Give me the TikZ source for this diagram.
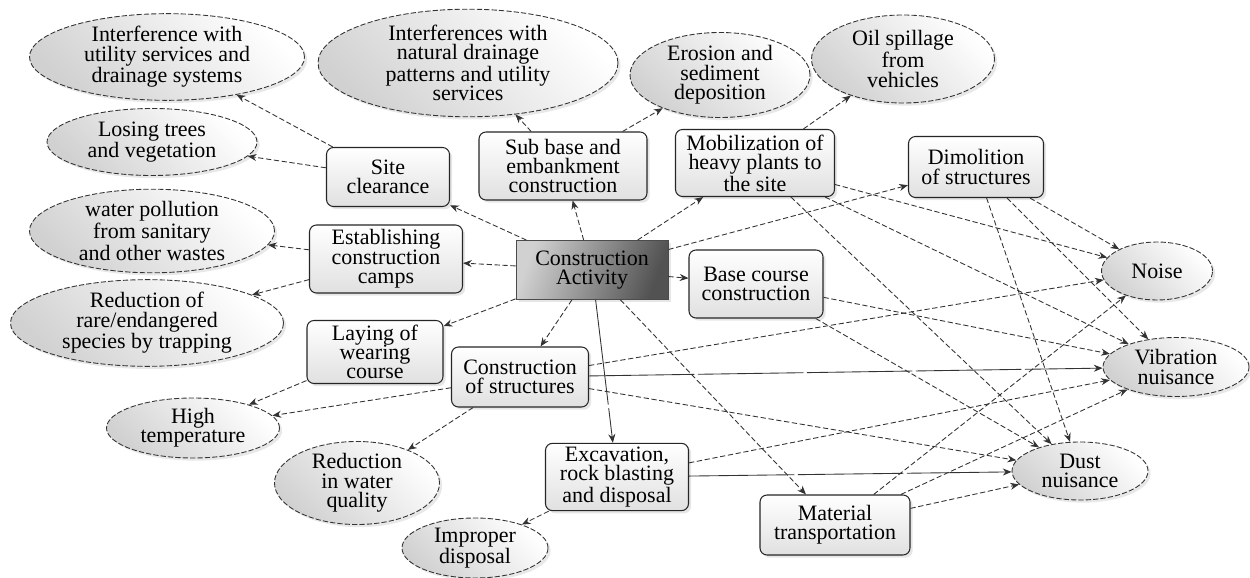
\documentclass[tikz,border=0pt]{standalone}
\usepackage{fontspec}
\setmainfont{Liberation Serif}
\newfontfamily\labelfont{Liberation Serif}
\usetikzlibrary{shapes.geometric, arrows.meta, shadows}

\begin{document}
\begin{tikzpicture}[
  font=\labelfont\fontsize{12.5}{11}\selectfont,
  impact/.style={ellipse, draw=black!80, dash pattern=on 3pt off 1.2pt, line width=0.5pt,
    top color=white, bottom color=black!18, shading angle=-45, align=center, inner sep=0pt,
    drop shadow={opacity=0.18, shadow xshift=1.5pt, shadow yshift=-1.5pt}},
  task/.style={rectangle, rounded corners=4pt, draw=black!85, line width=0.6pt,
    top color=white, bottom color=black!12, align=center, inner sep=2pt,
    drop shadow={opacity=0.2, shadow xshift=1.5pt, shadow yshift=-1.5pt}},
  hub/.style={rectangle, draw=black!70, line width=0.5pt, top color=black!18,
    bottom color=black!68, shading angle=70, align=center,
    drop shadow={opacity=0.2, shadow xshift=1.5pt, shadow yshift=-1.5pt}},
  link/.style={draw=black!80, line width=0.5pt, dash pattern=on 3pt off 1.5pt,
    -{Stealth[length=5pt,width=4pt]}},
  longlink/.style={link, dash pattern=on 60pt off 2pt}
]
\useasboundingbox (0,0) rectangle (25,11.54);

% Effects
\node[impact, minimum width=5.5cm, minimum height=1.7cm] (util) at (3.34,10.40) {Interference with\\utility services and\\drainage systems};
\node[impact, minimum width=6cm, minimum height=2.14cm] (drain) at (9.36,10.28) {Interferences with\\natural drainage\\patterns and utility\\services};
\node[impact, minimum width=3.6cm, minimum height=1.7cm] (erosion) at (14.40,10.04) {Erosion and\\sediment\\deposition};
\node[impact, minimum width=3.66cm, minimum height=1.76cm] (oil) at (18.06,10.36) {Oil spillage\\from\\vehicles};
\node[impact, minimum width=4.2cm, minimum height=1.34cm] (trees) at (3.04,8.70) {Losing trees\\and vegetation};
\node[impact, minimum width=4.9cm, minimum height=1.54cm] (water) at (3.04,6.92) {water pollution\\from sanitary\\and other wastes};
\node[impact, minimum width=5.46cm, minimum height=1.66cm] (species) at (2.94,5.08) {Reduction of\\rare/endangered\\species by trapping};
\node[impact, minimum width=3.46cm, minimum height=1.2cm] (temp) at (3.86,2.98) {High\\temperature};
\node[impact, minimum width=3.3cm, minimum height=1.66cm] (quality) at (7.14,1.88) {Reduction\\in water\\quality};
\node[impact, minimum width=2.92cm, minimum height=1.2cm] (improper) at (9.50,0.58) {Improper\\disposal};
\node[impact, minimum width=2.22cm, minimum height=1.16cm] (noise) at (23.14,6.12) {Noise};
\node[impact, minimum width=2.92cm, minimum height=1.18cm] (vib) at (23.52,4.20) {Vibration\\nuisance};
\node[impact, minimum width=2.72cm, minimum height=1.16cm] (dust) at (21.60,2.12) {Dust\\nuisance};

% Activities
\node[hub, minimum width=3.04cm, minimum height=1.18cm] (ca) at (11.84,6.14) {Construction\\Activity};
\node[task, minimum width=2.46cm, minimum height=1.18cm] (site) at (7.76,8.00) {Site\\clearance};
\node[task, minimum width=3.36cm, minimum height=1.36cm] (subbase) at (11.26,8.22) {Sub base and\\embankment\\construction};
\node[task, minimum width=3.18cm, minimum height=1.34cm] (mob) at (15.10,8.28) {Mobilization of\\heavy plants to\\the site};
\node[task, minimum width=2.7cm, minimum height=1.22cm] (demol) at (19.52,8.20) {Dimolition\\of structures};
\node[task, minimum width=3.06cm, minimum height=1.36cm] (camps) at (7.72,6.36) {Establishing\\construction\\camps};
\node[task, minimum width=2.68cm, minimum height=1.36cm] (base) at (15.12,5.86) {Base course\\construction};
\node[task, minimum width=2.72cm, minimum height=1.26cm] (laying) at (7.50,4.50) {Laying of\\wearing\\course};
\node[task, minimum width=2.74cm, minimum height=1.2cm] (struct) at (10.40,4.00) {Construction\\of structures};
\node[task, minimum width=2.86cm, minimum height=1.34cm] (excav) at (12.34,2.00) {Excavation,\\rock blasting\\and disposal};
\node[task, minimum width=3cm, minimum height=1.2cm] (transp) at (16.70,1.04) {Material\\transportation};

% From the main activity
\draw[link] (ca) -- (site);
\draw[link] (ca) -- (subbase);
\draw[link] (ca) -- (mob);
\draw[link] (ca) -- (camps);
\draw[link] (ca) -- (base);
\draw[link] (ca) -- (laying);
\draw[link] (ca) -- (struct);
\draw[longlink] (ca) -- (excav);
\draw[link] (ca) -- (transp);
\draw[link] (ca) -- (demol);

% Left and top effects
\draw[link] (site) -- (util);
\draw[link] (site) -- (trees);
\draw[link] (subbase) -- (drain);
\draw[link] (subbase) -- (erosion);
\draw[link] (mob) -- (oil);
\draw[link] (camps) -- (water);
\draw[link] (camps) -- (species);
\draw[link] (laying) -- (temp);
\draw[link] (struct) -- (temp);
\draw[link] (struct) -- (quality);
\draw[link] (excav) -- (improper);

% Noise, vibration and dust
\draw[link] (mob) -- (noise);
\draw[link] (mob) -- (vib);
\draw[link] (mob) -- (dust);
\draw[link] (demol) -- (noise);
\draw[link] (demol) -- (vib);
\draw[link] (demol) -- (dust);
\draw[link] (base) -- (vib);
\draw[link] (base) -- (dust);
\draw[link] (struct) -- (noise);
\draw[longlink] (struct) -- (vib);
\draw[link] (struct) -- (dust);
\draw[link] (excav) -- (vib);
\draw[longlink] (excav) -- (dust);
\draw[link] (transp) -- (noise);
\draw[link] (transp) -- (vib);
\draw[link] (transp) -- (dust);
\end{tikzpicture}
\end{document}
